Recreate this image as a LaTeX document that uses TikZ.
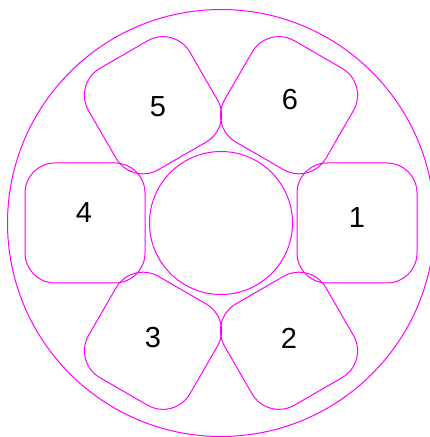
\documentclass[tikz,border=0pt]{standalone}
\usepackage{fontspec}
\setmainfont{Liberation Sans}
\usetikzlibrary{calc}
\definecolor{mag}{RGB}{255,0,255}
\begin{document}
\begin{tikzpicture}[x=1pt,y=1pt,
  cell/.style={draw=mag, line width=1pt, minimum size=120pt, rounded corners=30pt, inner sep=0pt},
  tilted/.style={cell, minimum size=117pt, rounded corners=31pt},
  ring/.style={draw=mag, line width=1pt, circle, inner sep=0pt},
  lbl/.style={font=\fontsize{29}{29}\selectfont, inner sep=0pt, text=black}]
\useasboundingbox (0,0) rectangle (429,437);
\coordinate (C) at (221,214);
\node[ring, minimum size=427pt] (outer) at (C) {};
\node[ring, minimum size=143pt] (inner) at (C) {};
\node[cell, rotate=0]   (c1) at ($(C)+(0:136)$) {};
\node[tilted, rotate=-60] (c2) at ($(C)+(-60:136)$) {};
\node[tilted, rotate=-120] (c3) at ($(C)+(-120:136)$) {};
\node[cell, rotate=180] (c4) at ($(C)+(180:136)$) {};
\node[tilted, rotate=120] (c5) at ($(C)+(120:136)$) {};
\node[tilted, rotate=60]  (c6) at ($(C)+(60:136)$) {};
\node[lbl] (l1) at (357,437-218) {1};
\node[lbl] (l2) at (289,437-338) {2};
\node[lbl] (l3) at (153,437-338) {3};
\node[lbl] (l4) at (84,437-213) {4};
\node[lbl] (l5) at (158,437-107) {5};
\node[lbl] (l6) at (290,437-100) {6};
\end{tikzpicture}
\end{document}
